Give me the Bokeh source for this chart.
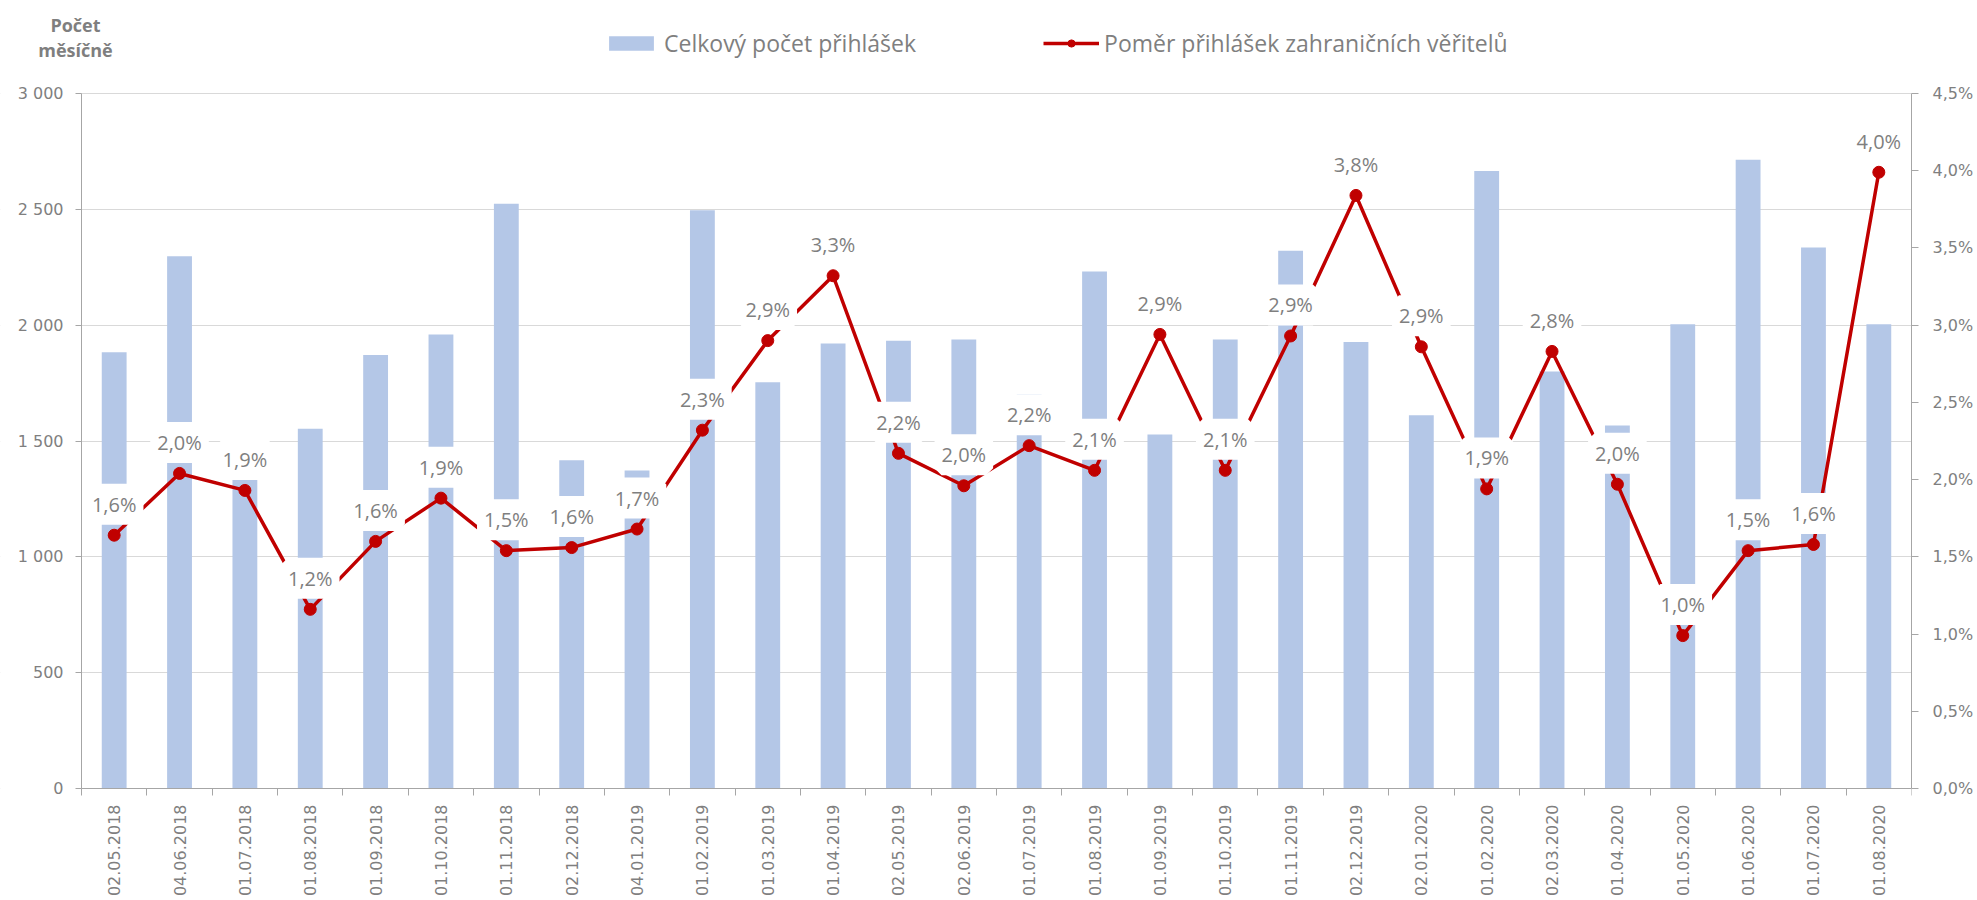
import numpy as np
from bokeh.plotting import figure
from bokeh.models import (Range1d, LinearAxis, FixedTicker, CustomJSTickFormatter,
                          ColumnDataSource, LabelSet, Label, Legend, LegendItem, BoxAnnotation)
from bokeh.core.properties import value
from bokeh.embed import file_html
from bokeh.resources import INLINE

# ---- data ----
dates = ["02.05.2018", "04.06.2018", "01.07.2018", "01.08.2018", "01.09.2018",
         "01.10.2018", "01.11.2018", "02.12.2018", "04.01.2019", "01.02.2019",
         "01.03.2019", "01.04.2019", "02.05.2019", "02.06.2019", "01.07.2019",
         "01.08.2019", "01.09.2019", "01.10.2019", "01.11.2019", "02.12.2019",
         "02.01.2020", "01.02.2020", "02.03.2020", "01.04.2020", "01.05.2020",
         "01.06.2020", "01.07.2020", "01.08.2020"]
total_counts = [1883, 2298, 1345, 1553, 1871, 1960, 2524, 1417, 1373, 2496,
                1754, 1921, 1933, 1938, 1702, 2232, 1528, 1938, 2321, 1927,
                1611, 2665, 1800, 1567, 2004, 2714, 2335, 2004]
foreign_ratio = [1.64, 2.04, 1.93, 1.16, 1.60, 1.88, 1.54, 1.56, 1.68, 2.32,
                 2.90, 3.32, 2.17, 1.96, 2.22, 2.06, 2.94, 2.06, 2.93, 3.84,
                 2.86, 1.94, 2.83, 1.97, 0.99, 1.54, 1.58, 3.99]
left_ticks = [0, 500, 1000, 1500, 2000, 2500, 3000]
right_ticks = [0.0, 0.005, 0.01, 0.015, 0.02, 0.025, 0.03, 0.035, 0.04, 0.045]
bar_label = "Celkový počet přihlášek"
line_label = "Poměr přihlášek zahraničních věřitelů"
axis_title = "Počet\nměsíčně"

# ---- style / layout ----
BAR = "#b4c7e7"
RED = "#c00000"
GRAY = "#7f7f7f"
AXIS = "#a6a6a6"
GRID = "#d9d9d9"
TICK_FONT = "DejaVu Sans"
TEXT_FONT = "Open Sans"

# The frame covers the whole page left of the right axis, so that legend, axis title
# and the left/bottom axes (drawn inside the frame) are never clipped.
# Plotting area proper: x 81..1911 px, y 93..788 px.
FRAME_W, FRAME_H = 1911, 900
PLOT_LEFT, PLOT_TOP, PLOT_BOTTOM = 81, 93, 788
n = len(dates)
cat_px = (FRAME_W - PLOT_LEFT) / n
y_max = max(left_ticks)
p_max = max(right_ticks)
y_px = (PLOT_BOTTOM - PLOT_TOP) / y_max
p_px = (PLOT_BOTTOM - PLOT_TOP) / p_max
below = FRAME_H - PLOT_BOTTOM

idx = np.arange(n)
ratio = np.array(foreign_ratio) / 100.0
src = ColumnDataSource(dict(
    x=idx + 0.5,
    total=total_counts,
    ratio=ratio,
    lbl=[("%.1f" % v).replace(".", ",") + "%" for v in foreign_ratio],
))

p = figure(frame_width=FRAME_W, frame_height=FRAME_H, output_backend="svg", toolbar_location=None,
           x_range=Range1d(-PLOT_LEFT / cat_px, n),
           y_range=Range1d(-below / y_px, PLOT_BOTTOM / y_px),
           min_border_left=0, min_border_right=55, min_border_top=0, min_border_bottom=0)
p.outline_line_color = None
p.background_fill_color = "white"
p.border_fill_color = "white"
p.extra_y_ranges = {"pct": Range1d(-below / p_px, PLOT_BOTTOM / p_px)}

# grid
p.xgrid.grid_line_color = None
p.ygrid.ticker = FixedTicker(ticks=left_ticks)
p.ygrid.grid_line_color = GRID
p.ygrid.grid_line_width = 1
# hide grid lines left of the value axis
p.add_layout(BoxAnnotation(right=0, fill_color="white", fill_alpha=1, line_color=None, level="underlay"))

# bars
vb = p.vbar(x="x", top="total", width=0.38, source=src, fill_color=BAR, line_color=None)
# line
ln = p.line(x="x", y="ratio", source=src, line_color=RED, line_width=3.5, y_range_name="pct")
sc = p.scatter(x="x", y="ratio", source=src, marker="circle", size=12, fill_color=RED,
               line_color=RED, y_range_name="pct")

# data labels (white box: background + thick white border acting as padding)
labels = LabelSet(x="x", y="ratio", text="lbl", source=src, y_range_name="pct",
                  y_offset=31, text_align="center", text_baseline="middle",
                  text_font=value(TEXT_FONT), text_font_size="20px", text_color=GRAY,
                  background_fill_color="white", border_line_color="white",
                  border_line_width=14)
p.add_layout(labels)

# x axis, placed at y = 0 inside the frame
xa = p.xaxis[0]
xa.fixed_location = 0
xa.bounds = (0, n)
xa.ticker = FixedTicker(ticks=list(idx + 0.5), minor_ticks=list(range(n + 1)))
xa.formatter = CustomJSTickFormatter(args=dict(labels=dates), code="return labels[Math.floor(tick)];")
xa.major_label_orientation = np.pi / 2
xa.major_tick_line_color = None
xa.major_tick_out = 0
xa.major_tick_in = 0
xa.minor_tick_line_color = AXIS
xa.minor_tick_out = 7
xa.minor_tick_in = 0
xa.major_label_standoff = 9
xa.axis_line_color = AXIS
xa.major_label_text_font = TICK_FONT
xa.major_label_text_font_size = "16px"
xa.major_label_text_color = GRAY

# left axis, placed at x = 0 inside the frame
ya = p.yaxis[0]
ya.fixed_location = 0
ya.bounds = (0, y_max)
ya.ticker = FixedTicker(ticks=left_ticks)
ya.formatter = CustomJSTickFormatter(code="return tick.toFixed(0).replace(/\\B(?=(\\d{3})+(?!\\d))/g, ' ');")
ya.minor_tick_line_color = None
ya.major_tick_in = 0
ya.major_tick_out = 6
ya.major_tick_line_color = AXIS
ya.axis_line_color = AXIS
ya.major_label_standoff = 12
ya.major_label_text_font = TICK_FONT
ya.major_label_text_font_size = "16px"
ya.major_label_text_color = GRAY

# right axis
ra = LinearAxis(y_range_name="pct")
ra.bounds = (0, p_max)
ra.ticker = FixedTicker(ticks=right_ticks)
ra.formatter = CustomJSTickFormatter(code="return (tick*100).toFixed(1).replace('.', ',') + '%';")
ra.minor_tick_line_color = None
ra.major_tick_in = 0
ra.major_tick_out = 7
ra.major_tick_line_color = AXIS
ra.axis_line_color = AXIS
ra.major_label_standoff = 14
ra.major_label_text_font = TICK_FONT
ra.major_label_text_font_size = "16px"
ra.major_label_text_color = GRAY
p.add_layout(ra, "right")

# axis title (screen units relative to the frame's bottom-left corner)
p.add_layout(Label(x=75, y=FRAME_H - 12, x_units="screen", y_units="screen", text=axis_title,
                   text_align="center", text_baseline="top", text_font=TEXT_FONT,
                   text_font_size="18px", text_font_style="bold", text_color=GRAY,
                   text_line_height=1.08))

# legend
legend = Legend(items=[LegendItem(label=bar_label, renderers=[vb]),
                       LegendItem(label=line_label, renderers=[ln, sc])],
                location=(603, FRAME_H - 59), orientation="horizontal",
                glyph_width=56, glyph_height=18, label_standoff=5, spacing=127,
                padding=0, margin=0, border_line_color=None, background_fill_alpha=0,
                label_text_font=TEXT_FONT, label_text_font_size="23px",
                label_text_color=GRAY)
p.add_layout(legend)

open("out.html", "w").write(file_html(p, INLINE))
